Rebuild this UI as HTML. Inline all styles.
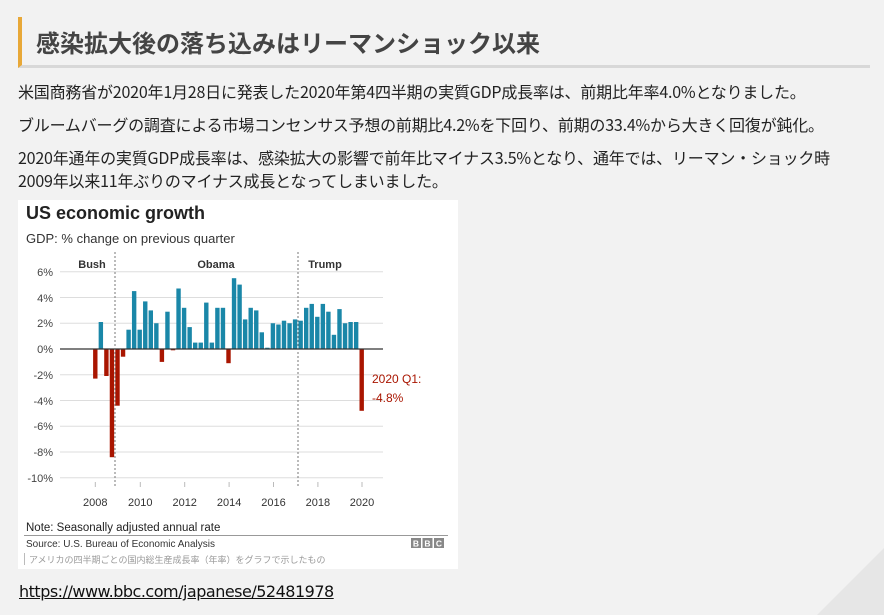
<!DOCTYPE html>
<html><head><meta charset="utf-8"><style>
body{margin:0;width:884px;height:615px;background:#f2f2f2;position:relative;overflow:hidden;font-family:"Liberation Sans","Noto Sans CJK JP",sans-serif}
.t{position:absolute;white-space:nowrap;color:#222;font-family:"Noto Sans CJK JP",sans-serif}
</style></head><body>
<div style="position:absolute;left:18px;top:17px;width:848px;height:48px;border-left:4px solid #e8a838;border-bottom:3px solid #d8d8d8;box-sizing:content-box"></div>
<div class="t" style="left:36px;top:24px;font-size:24px;font-weight:bold;color:#444;letter-spacing:0px">感染拡大後の落ち込みはリーマンショック以来</div>
<div class="t" style="left:18px;top:79px;font-size:16px;letter-spacing:-0.2px">米国商務省が2020年1月28日に発表した2020年第4四半期の実質GDP成長率は、前期比年率4.0%となりました。</div>
<div class="t" style="left:18px;top:112px;font-size:16px;letter-spacing:-0.2px">ブルームバーグの調査による市場コンセンサス予想の前期比4.2%を下回り、前期の33.4%から大きく回復が鈍化。</div>
<div class="t" style="left:18px;top:145px;font-size:16px;letter-spacing:-0.2px">2020年通年の実質GDP成長率は、感染拡大の影響で前年比マイナス3.5%となり、通年では、リーマン・ショック時</div>
<div class="t" style="left:18px;top:168px;font-size:16px;letter-spacing:-0.2px">2009年以来11年ぶりのマイナス成長となってしまいました。</div>
<svg style="position:absolute;left:0;top:0" width="884" height="615" font-family="Liberation Sans, sans-serif">
<polygon points="884,548 884,615 817,615" fill="#e6e6e6"/>
<rect x="18" y="200" width="440" height="369" fill="#fff"/>
<text x="26" y="219" font-size="18" font-weight="bold" fill="#222">US economic growth</text>
<text x="26" y="243" font-size="13" fill="#333">GDP: % change on previous quarter</text>
<g stroke="#ddd" stroke-width="1">
<line x1="60" x2="383" y1="271.75" y2="271.75"/><line x1="60" x2="383" y1="297.5" y2="297.5"/><line x1="60" x2="383" y1="323.25" y2="323.25"/><line x1="60" x2="383" y1="374.75" y2="374.75"/><line x1="60" x2="383" y1="400.5" y2="400.5"/><line x1="60" x2="383" y1="426.25" y2="426.25"/><line x1="60" x2="383" y1="452" y2="452"/><line x1="60" x2="383" y1="477.75" y2="477.75"/>
</g>
<g font-size="11" fill="#444" text-anchor="end">
<text x="53" y="276">6%</text><text x="53" y="302">4%</text><text x="53" y="327">2%</text><text x="53" y="353">0%</text><text x="53" y="379">-2%</text><text x="53" y="405">-4%</text><text x="53" y="430">-6%</text><text x="53" y="456">-8%</text><text x="53" y="482">-10%</text>
</g>
<g fill="#1a87a8">
<rect x="98.65" y="322" width="4.4" height="27"/><rect x="126.4" y="329.7" width="4.4" height="19.3"/><rect x="131.95" y="291.1" width="4.4" height="57.9"/><rect x="137.5" y="329.7" width="4.4" height="19.3"/><rect x="143.05" y="301.4" width="4.4" height="47.6"/><rect x="148.6" y="310.4" width="4.4" height="38.6"/><rect x="154.15" y="323.25" width="4.4" height="25.75"/><rect x="165.25" y="311.7" width="4.4" height="37.3"/><rect x="176.35" y="288.5" width="4.4" height="60.5"/><rect x="181.9" y="307.8" width="4.4" height="41.2"/><rect x="187.45" y="327.1" width="4.4" height="21.9"/><rect x="193" y="342.6" width="4.4" height="6.4"/><rect x="198.55" y="342.6" width="4.4" height="6.4"/><rect x="204.1" y="302.6" width="4.4" height="46.4"/><rect x="209.65" y="342.6" width="4.4" height="6.4"/><rect x="215.2" y="307.8" width="4.4" height="41.2"/><rect x="220.75" y="307.8" width="4.4" height="41.2"/><rect x="231.85" y="278.2" width="4.4" height="70.8"/><rect x="237.4" y="284.6" width="4.4" height="64.4"/><rect x="242.95" y="319.4" width="4.4" height="29.6"/><rect x="248.5" y="307.8" width="4.4" height="41.2"/><rect x="254.05" y="310.4" width="4.4" height="38.6"/><rect x="259.6" y="332.3" width="4.4" height="16.7"/><rect x="265.15" y="347.7" width="4.4" height="1.3"/><rect x="270.7" y="323.25" width="4.4" height="25.75"/><rect x="276.25" y="324.5" width="4.4" height="24.5"/><rect x="281.8" y="320.7" width="4.4" height="28.3"/><rect x="287.35" y="323.25" width="4.4" height="25.75"/><rect x="292.9" y="319.4" width="4.4" height="29.6"/><rect x="298.45" y="320.7" width="4.4" height="28.3"/><rect x="304" y="307.8" width="4.4" height="41.2"/><rect x="309.55" y="303.9" width="4.4" height="45.1"/><rect x="315.1" y="316.8" width="4.4" height="32.2"/><rect x="320.65" y="303.9" width="4.4" height="45.1"/><rect x="326.2" y="311.7" width="4.4" height="37.3"/><rect x="331.75" y="334.8" width="4.4" height="14.2"/><rect x="337.3" y="309.1" width="4.4" height="39.9"/><rect x="342.85" y="323.25" width="4.4" height="25.75"/><rect x="348.4" y="322" width="4.4" height="27"/><rect x="353.95" y="322" width="4.4" height="27"/>
</g>
<g fill="#a91500">
<rect x="93.1" y="349" width="4.4" height="29.6"/><rect x="104.2" y="349" width="4.4" height="27"/><rect x="109.75" y="349" width="4.4" height="108.2"/><rect x="115.3" y="349" width="4.4" height="56.7"/><rect x="120.85" y="349" width="4.4" height="7.7"/><rect x="159.7" y="349" width="4.4" height="12.9"/><rect x="170.8" y="349" width="4.4" height="1.3"/><rect x="226.3" y="349" width="4.4" height="14.2"/><rect x="359.5" y="349" width="4.4" height="61.8"/>
</g>
<line x1="60" x2="383" y1="349" y2="349" stroke="#333" stroke-width="1.2"/>
<g stroke="#777" stroke-width="1" stroke-dasharray="2,2">
<line x1="115" x2="115" y1="252" y2="488"/><line x1="298" x2="298" y1="252" y2="488"/>
</g>
<g font-size="11" font-weight="bold" fill="#333" text-anchor="middle">
<text x="92" y="268">Bush</text><text x="216" y="268">Obama</text><text x="325" y="268">Trump</text>
</g>
<g stroke="#bbb"><line x1="95.3" x2="95.3" y1="482" y2="487"/><line x1="140.3" x2="140.3" y1="482" y2="487"/><line x1="184.7" x2="184.7" y1="482" y2="487"/><line x1="229.1" x2="229.1" y1="482" y2="487"/><line x1="273.5" x2="273.5" y1="482" y2="487"/><line x1="317.9" x2="317.9" y1="482" y2="487"/><line x1="362" x2="362" y1="482" y2="487"/></g>
<g font-size="11" fill="#333" text-anchor="middle">
<text x="95.3" y="506">2008</text><text x="140.3" y="506">2010</text><text x="184.7" y="506">2012</text><text x="229.1" y="506">2014</text><text x="273.5" y="506">2016</text><text x="317.9" y="506">2018</text><text x="362" y="506">2020</text>
</g>
<text x="372" y="383" font-size="12" fill="#a91500">2020 Q1:</text>
<text x="372" y="402" font-size="12" fill="#a91500">-4.8%</text>
<text x="26" y="531" font-size="11.5" fill="#222">Note: Seasonally adjusted annual rate</text>
<line x1="24" x2="448" y1="535.5" y2="535.5" stroke="#999"/>
<text x="26" y="547" font-size="10" fill="#333">Source: U.S. Bureau of Economic Analysis</text>
<g fill="#888"><rect x="411" y="538" width="10" height="10"/><rect x="422.5" y="538" width="10" height="10"/><rect x="434" y="538" width="10" height="10"/></g>
<g font-size="8.5" font-weight="bold" fill="#fff" text-anchor="middle"><text x="416" y="546.5">B</text><text x="427.5" y="546.5">B</text><text x="439" y="546.5">C</text></g>
<line x1="24.5" x2="24.5" y1="553" y2="565" stroke="#bbb"/>
<text x="29" y="563" font-size="9" fill="#999" font-family="Noto Sans CJK JP, sans-serif">アメリカの四半期ごとの国内総生産成長率（年率）をグラフで示したもの</text>
</svg>
<div class="t" style="left:19px;top:582px;font-size:16px;font-family:'DejaVu Sans',sans-serif;letter-spacing:-0.5px;text-decoration:underline;color:#111">https://www.bbc.com/japanese/52481978</div>
</body></html>
